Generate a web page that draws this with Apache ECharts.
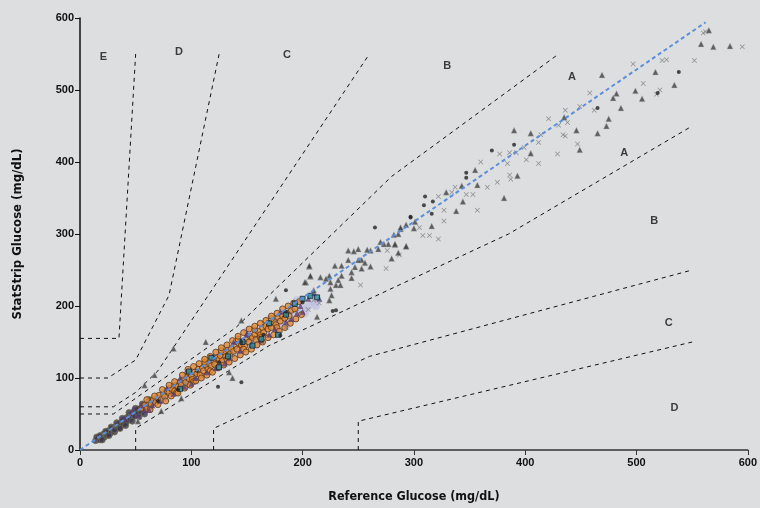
<!DOCTYPE html>
<html style="height: 100%">
<head>
    <meta charset="utf-8">
    <script src="https://cdn.jsdelivr.net/npm/echarts@6/dist/echarts.min.js"></script>
</head>
<body style="height: 100%; margin: 0; background: #dddee0">
    <div id="container" style="width: 760px; height: 508px"></div>
    <script type="text/javascript">
        // Parkes error grid boundaries (reference, meter)
        var upperAB = [[0, 50], [30, 50], [140, 170], [280, 380], [430, 550]];
        var lowerAB = [[50, 0], [50, 30], [170, 145], [385, 300], [550, 450]];
        var upperBC = [[0, 60], [30, 60], [50, 80], [70, 110], [260, 550]];
        var lowerBC = [[120, 0], [120, 30], [260, 130], [550, 250]];
        var upperCD = [[0, 100], [25, 100], [50, 125], [80, 215], [125, 550]];
        var lowerCD = [[250, 0], [250, 40], [550, 150]];
        var upperDE = [[0, 155], [35, 155], [50, 550]];
        var fitLine = [[0, 0], [562, 594]];

        var zoneLabels = [
            [21, 546, 'E'], [89, 553, 'D'], [186, 549, 'C'], [330, 534, 'B'], [442, 518, 'A'],
            [489, 412, 'A'], [516, 318, 'B'], [529, 177, 'C'], [534, 58, 'D']
        ];

        // dense cluster
        var lowDark = [[14,13],[16,15],[17,18],[18,14],[19,17],[20,19],[21,22],[22,18],[23,21],[24,24],[25,22],[26,27],[27,23],[28,26],[29,30],[30,28],[31,25],[32,33],[33,30],[34,34],[35,31],[36,37],[37,35],[38,40],[39,36],[40,42],[41,38],[42,45],[43,41],[44,47],[45,43],[46,49],[47,46],[48,52],[49,47],[50,54],[52,51],[53,57],[55,52],[57,60],[59,56],[61,63],[63,60],[65,67],
            [15,18],[18,20],[20,14],[23,26],[26,20],[28,32],[31,28],[33,38],[36,30],[38,44],[41,34],[44,52],[47,40],[50,58],[53,46],[56,64],[58,50],[62,70]];
        var orangePts = [[55,58],[58,62],[60,57],[62,66],[64,63],[66,70],[68,66],[70,72],[71,76],[73,70],[75,78],[76,74],[78,82],[80,80],[81,86],[83,84],[85,82],[86,90],[88,88],[90,95],[91,90],[93,98],[95,94],[96,101],[98,99],[100,104],[101,98],[103,108],[105,106],[106,112],[108,104],[110,114],[111,110],[113,118],[115,112],[116,121],[118,117],[120,124],[121,119],[123,128],[125,126],[126,131],[128,124],[130,135],[131,130],[133,139],[135,134],[136,141],[138,137],[140,145],[141,140],[143,148],[145,146],[146,151],[148,144],[150,155],[152,150],[153,158],[155,156],[157,161],[158,153],[160,165],[162,160],[164,170],[165,163],[167,172],[169,168],[170,175],[172,170],[174,178],[176,174],[178,184],[180,179],[182,186],[184,183],[186,190],[188,186],[190,194],[193,196],[97,108],[112,122],[127,138],[142,154],[157,167],[172,182],[87,80],[102,95],[117,110],[132,126],[147,140],[162,156],[177,170],
            [60,70],[63,56],[67,75],[70,63],[74,84],[77,68],[80,90],[82,75],[85,95],[88,79],[92,104],[94,86],[97,112],[99,90],[102,116],[104,96],[107,120],[109,100],[112,126],[114,104],[117,130],[119,108],[122,136],[124,114],[127,142],[129,118],[132,146],[134,122],[137,152],[139,127],[142,158],[144,132],[147,163],[149,136],[152,168],[154,140],[157,172],[159,146],[162,176],[164,150],[167,180],[169,156],[172,186],[174,160],[177,190],[179,165],[182,196],[184,170],[187,200],[189,176],[192,204],[194,182],[197,206],[199,188]];
        var purplePts = [[40,44],[45,50],[52,48],[58,55],[65,62],[72,68],[84,78],[94,88],[104,100],[114,108],[122,114],[134,128],[144,138],[154,148],[163,152],[175,168],[185,178],[195,190],[198,200],[205,210],[150,162],[138,150],[190,182],
            [48,58],[55,62],[62,56],[78,86],[90,100],[100,92],[120,130],[130,120],[150,160],[170,160],[180,192],[200,192],[210,218],[215,210]];
        var lavenderPts = [[85,87],[92,92],[100,100],[108,107],[115,115],[122,121],[130,128],[137,133],[145,142],[152,148],[160,158],[167,162],[175,171],[182,178],[190,185],[196,190],[200,196],[205,200],[210,206],[120,112],[140,132],[160,150],[180,172],[110,102],
            [70,74],[78,72],[95,104],[105,96],[125,135],[135,125],[150,165],[158,145],[170,182],[185,172],[195,208],[202,190],[208,215],[212,200]];
        var tealPts = [[98,109],[118,128],[133,130],[146,150],[163,154],[170,176],[178,160],[185,188],[193,203],[200,210],[207,214],[213,212],[125,115],[155,145],[90,85]];

        // sparse points
        var trianglePts = [[549,601],[565,583],[558,564],[569,560],[584,561],[534,507],[505,488],[482,495],[479,489],[499,499],[486,475],[469,521],[517,525],[475,460],[473,450],[465,440],[449,417],[446,444],[405,440],[390,444],[405,412],[393,381],[381,350],[355,389],[329,358],[344,345],[338,332],[316,311],[300,308],[293,283],[283,285],[288,307],[435,462],[343,367],[357,368],
            [301,317],[293,313],[288,309],[286,300],[282,299],[283,286],[277,286],[273,286],[270,289],[268,279],[261,277],[258,278],[250,279],[246,276],[241,277],[253,264],[250,264],[241,264],[256,260],[261,255],[247,254],[253,252],[235,256],[229,256],[293,283],[286,274],[280,266],[244,239],[244,247],[235,242],[232,236],[230,229],[234,229],[224,242],[221,238],[216,240],[225,233],[225,224],[206,255],[207,241],[203,233],[226,215],[224,208],[210,222],
            [84,141],[58,90],[67,104],[113,150],[145,180],[134,108],[137,100],[91,72],[73,54],[52,40],[206,256],[207,242],[202,233],[176,210],[213,185]];
        var crossPts = [[595,560],[552,541],[560,579],[562,581],[523,541],[527,542],[506,509],[497,536],[521,500],[518,494],[458,496],[462,472],[449,477],[436,472],[438,455],[430,451],[421,460],[434,438],[436,436],[447,425],[412,427],[414,438],[429,411],[412,398],[401,403],[399,420],[392,413],[386,413],[377,411],[384,398],[360,400],[386,382],[387,376],[375,372],[366,365],[357,333],[327,333],[327,318],[334,358],[347,355],[353,355],[322,352],[314,298],[308,298],[322,293],[305,309],[287,271],[276,277],[337,365],[252,229],[275,252],
            [20,22],[30,32],[45,48],[60,63],[75,72],[95,92],[115,118],[135,138],[155,152],[175,180],[195,192],[210,208],[215,204],[205,195],[185,170]];
        var dotPts = [[538,525],[370,416],[390,424],[347,385],[347,378],[310,352],[309,340],[317,345],[297,323],[465,475],[519,496],[316,328],[297,324],[265,309],[185,222],[230,194],
            [70,68],[88,84],[105,110],[125,122],[145,150],[165,160],[185,192],[200,205],
            [145,94],[124,88],[180,159],[227,193]];

        var boundaries = [upperAB, lowerAB, upperBC, lowerBC, upperCD, lowerCD, upperDE];

        var dom = document.getElementById('container');
        var myChart = echarts.init(dom);
        var font = "'DejaVu Sans Condensed', sans-serif";
        var crossPath = 'path://M0,1L1,0L5,4L9,0L10,1L6,5L10,9L9,10L5,6L1,10L0,9L4,5Z';

        var series = [];
        boundaries.forEach(function (b) {
            series.push({
                type: 'line',
                data: b,
                symbol: 'none',
                silent: true,
                lineStyle: { color: '#111', width: 1, type: [4, 4] },
                z: 1
            });
        });
        series.push(
            { type: 'scatter', data: lowDark, symbol: 'circle', symbolSize: 6,
              itemStyle: { color: '#3b3650', borderColor: '#6b6a48', borderWidth: 1 }, z: 3 },
            { type: 'scatter', data: lavenderPts, symbol: 'circle', symbolSize: 8,
              itemStyle: { color: 'rgba(185,185,225,0.75)' }, z: 3 },
            { type: 'scatter', data: orangePts, symbol: 'circle', symbolSize: 6,
              itemStyle: { color: '#e38a35', borderColor: '#5a3618', borderWidth: 1 }, z: 4 },
            { type: 'scatter', data: purplePts, symbol: 'triangle', symbolSize: 6,
              itemStyle: { color: '#5a3f70' }, z: 4 },
            { type: 'scatter', data: tealPts, symbol: 'rect', symbolSize: 5,
              itemStyle: { color: '#2a8c9c', borderColor: '#123', borderWidth: 1 }, z: 4 },
            { type: 'scatter', data: crossPts, symbol: crossPath, symbolSize: 5,
              itemStyle: { color: '#777' }, z: 5 },
            { type: 'scatter', data: trianglePts, symbol: 'triangle', symbolSize: 6,
              itemStyle: { color: '#3d3d3d', borderColor: '#bdbdbd', borderWidth: 0.5 }, z: 5 },
            { type: 'scatter', data: dotPts, symbol: 'circle', symbolSize: 4,
              itemStyle: { color: '#222' }, z: 5 },
            { type: 'line', data: fitLine, symbol: 'none', silent: true,
              lineStyle: { color: '#5b8fdb', width: 2, type: [4, 3] }, z: 6 },
            { type: 'scatter', data: zoneLabels, symbolSize: 0, silent: true,
              label: { show: true, position: 'inside', formatter: function (p) { return p.value[2]; },
                       color: '#111', fontWeight: 'bold', fontSize: 11, fontFamily: 'Liberation Sans' }, z: 7 }
        );

        var option = {
            backgroundColor: '#dddee0',
            animation: false,
            grid: { left: 80, right: 8, top: 18, bottom: 56 },
            xAxis: {
                type: 'value', min: 0, max: 600, interval: 100,
                name: 'Reference Glucose (mg/dL)', nameLocation: 'middle', nameGap: 40,
                nameTextStyle: { fontSize: 12.5, fontWeight: 'bold', color: '#111', fontFamily: font },
                axisLine: { lineStyle: { color: '#333', width: 1.5 } },
                axisTick: { inside: false, length: 5, lineStyle: { color: '#333' } },
                axisLabel: { color: '#111', fontWeight: 'bold', fontSize: 11, fontFamily: 'Liberation Sans', margin: 7 },
                splitLine: { show: false }
            },
            yAxis: {
                type: 'value', min: 0, max: 600, interval: 100,
                name: 'StatStrip Glucose (mg/dL)', nameLocation: 'middle', nameGap: 56,
                nameTextStyle: { fontSize: 13, fontWeight: 'bold', color: '#111', fontFamily: font },
                axisLine: { show: true, lineStyle: { color: '#111', width: 1.5 } },
                axisTick: { show: true, length: 5, lineStyle: { color: '#111' } },
                axisLabel: { color: '#111', fontWeight: 'bold', fontSize: 11, fontFamily: 'Liberation Sans', margin: 6 },
                splitLine: { show: false }
            },
            series: series
        };

        myChart.setOption(option, true);
    </script>
</body>
</html>
